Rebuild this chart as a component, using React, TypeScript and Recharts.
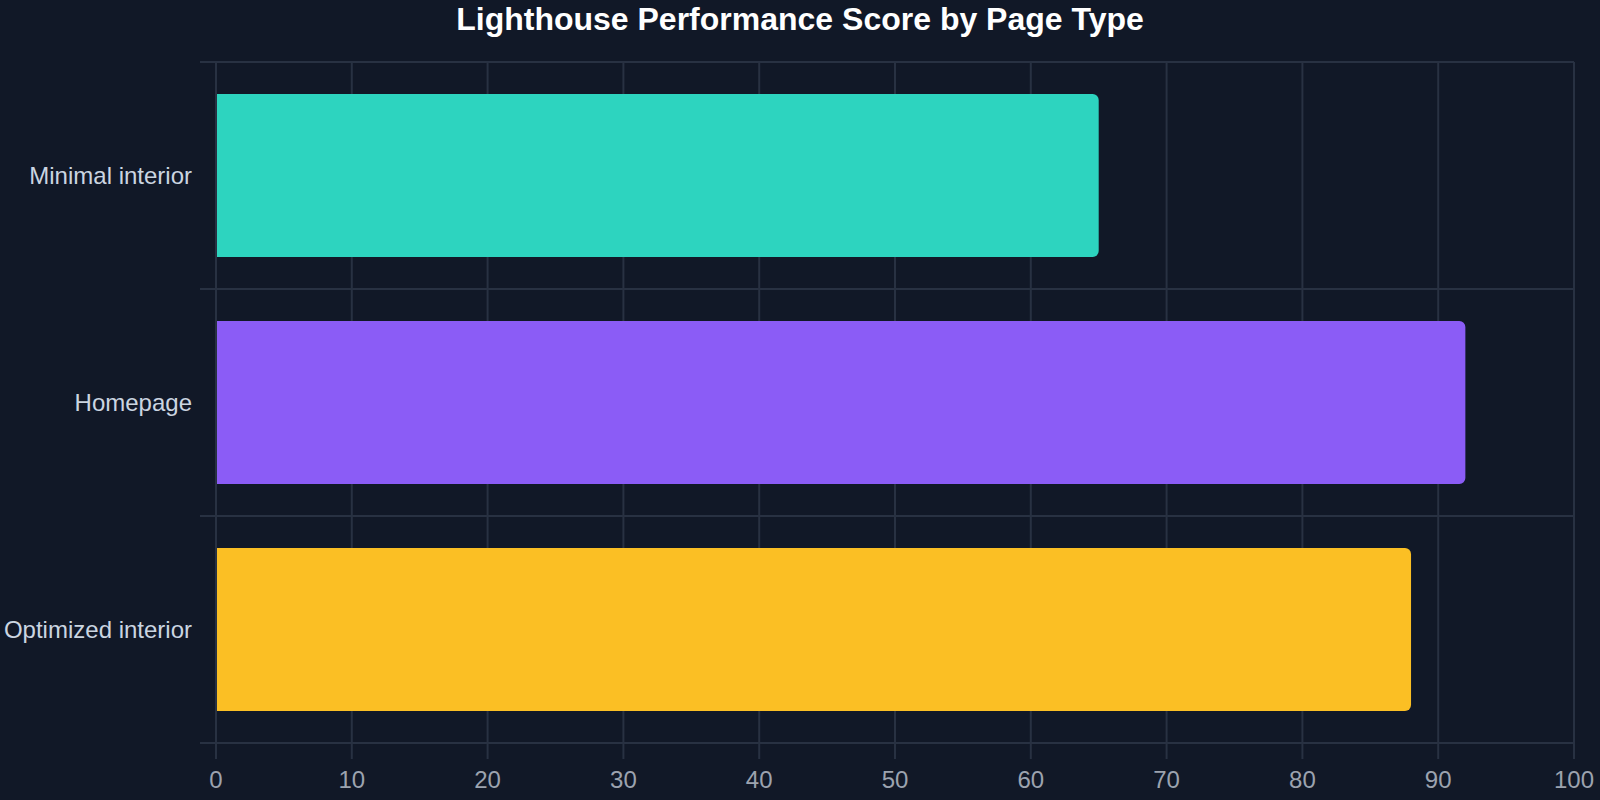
import React from 'react';
import { BarChart, Bar, XAxis, YAxis, CartesianGrid, Cell } from 'recharts';

const categories = ['Minimal interior', 'Homepage', 'Optimized interior'];
const scores = [65, 92, 88];
const barColors = ['#2dd4bf', '#8b5cf6', '#fbbf24'];
const xTicks = [0, 10, 20, 30, 40, 50, 60, 70, 80, 90, 100];

const data = categories.map((name, i) => ({ name, score: scores[i] }));

const W = 1600;
const H = 800;
const TOP = 62;
const BOTTOM_AXIS = 57;
const LEFT = 216;
const RIGHT = 26;
const PLOT_H = H - TOP - BOTTOM_AXIS;
const BAND = PLOT_H / categories.length;
const GRID = '#283142';
const FONT = '"Liberation Sans", Arial, sans-serif';

const YTick = (props: any) => {
  const { y, payload, index } = props;
  const top = y - BAND / 2;
  const bottom = y + BAND / 2;
  return (
    <g>
      {index === 0 && <line x1={LEFT - 16} x2={LEFT} y1={top} y2={top} stroke={GRID} strokeWidth={2} />}
      <line x1={LEFT - 16} x2={LEFT} y1={bottom} y2={bottom} stroke={GRID} strokeWidth={2} />
      <text x={LEFT - 24} y={y} dy="0.355em" textAnchor="end" fill="#cbd5e1" fontSize={24} fontFamily={FONT}>
        {payload.value}
      </text>
    </g>
  );
};

export default function App() {
  return (
    <div style={{ position: 'absolute', left: 0, top: 0, width: W, height: H, background: '#111827', fontFamily: FONT }}>
      <div
        style={{
          position: 'absolute',
          left: 0,
          top: 3,
          width: W,
          textAlign: 'center',
          color: '#ffffff',
          fontSize: 32,
          lineHeight: '32px',
          fontWeight: 700,
          fontFamily: FONT,
        }}
      >
        Lighthouse Performance Score by Page Type
      </div>
      <BarChart
        width={W}
        height={H}
        data={data}
        layout="vertical"
        margin={{ top: TOP, right: RIGHT, bottom: 0, left: 0 }}
        barSize={163}
      >
        <CartesianGrid
          stroke={GRID}
          strokeWidth={2}
          horizontalCoordinatesGenerator={({ offset }: any) =>
            categories.map((_, i) => offset.top + (offset.height * i) / categories.length).concat([offset.top + offset.height])
          }
        />
        <XAxis
          type="number"
          domain={[0, 100]}
          ticks={xTicks}
          interval={0}
          height={BOTTOM_AXIS}
          tickSize={16}
          tickMargin={12}
          axisLine={{ stroke: GRID, strokeWidth: 2 }}
          tickLine={{ stroke: GRID, strokeWidth: 2 }}
          tick={{ fill: '#9ca3af', fontSize: 24, fontFamily: FONT }}
        />
        <YAxis
          type="category"
          dataKey="name"
          width={LEFT}
          axisLine={{ stroke: GRID, strokeWidth: 2 }}
          tickLine={false}
          tick={<YTick />}
          interval={0}
        />
        <Bar dataKey="score" isAnimationActive={false} radius={[0, 6, 6, 0]}>
          {data.map((d, i) => (
            <Cell key={d.name} fill={barColors[i]} />
          ))}
        </Bar>
      </BarChart>
    </div>
  );
}
